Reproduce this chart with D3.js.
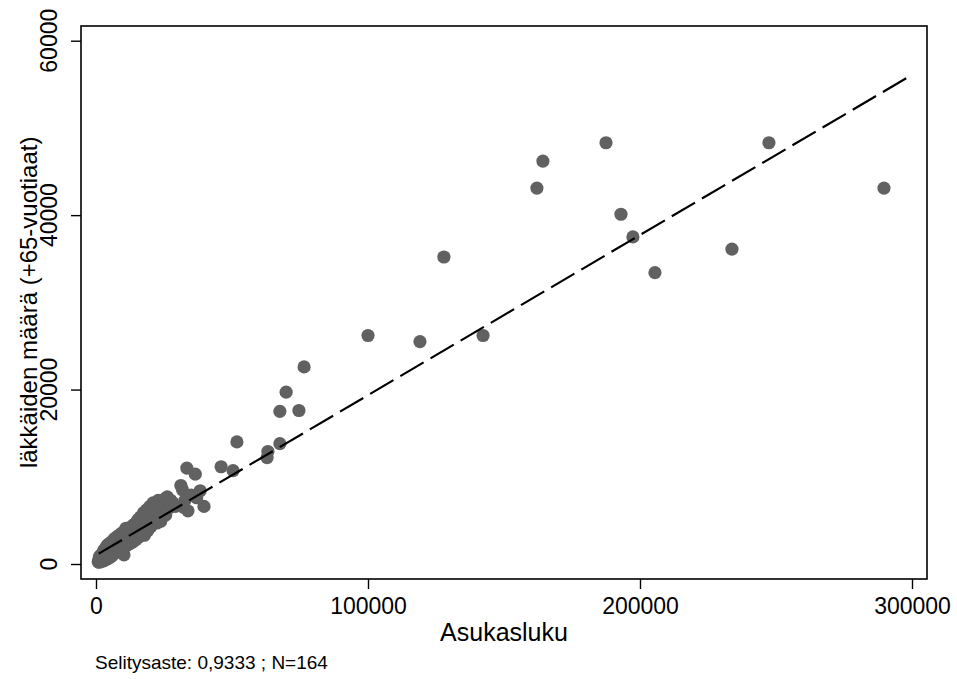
<!doctype html>
<html lang="fi">
<head>
  <meta charset="utf-8">
  <title>Asukasluku ja läkkäiden määrä</title>
  <script src="https://d3js.org/d3.v7.min.js"></script>
  <style>
  body { margin: 0; background: #fff; }
  svg text { font-family: "Liberation Sans", Arial, sans-serif; fill: #000; }
  </style>
</head>
<body>
<script>
  // municipalities: population (x) and number of elderly +65 (y)
  var asukasluku = [
    289700, 247400, 187500, 164300, 162100, 193000, 197400, 205500, 233800, 127900,
    100000, 119100, 142300, 76500, 69900, 67600, 74600, 67600, 63200, 62900,
    51800, 46000, 50400,
    800, 1000, 1100, 1200, 1300, 1400, 1500, 1600, 1700, 1800, 1900, 2000, 2100, 2200,
    2300, 2400, 2500, 2600, 2700, 2800, 2900, 3000, 1250, 1750, 2250, 2750, 2600, 3100,
    3200, 3400, 3500,
    3600, 3700, 3800, 3900, 4000, 4100, 4200, 4300, 4400, 4500, 4600, 4700, 4800, 4900,
    5000, 5100, 5200, 5300, 5400, 5500, 5600, 5700, 5800, 5900, 6000,
    6200, 6300, 6400, 6600, 6700, 6800, 7000, 7100, 7300, 7400, 7600, 7700, 7900, 8000,
    8200, 8400, 8500, 8700, 8900, 9000, 9300, 9500, 9700, 9900, 10300,
    10400, 10600, 10900, 11200, 11500, 11700, 12000, 12300, 12600, 12900, 13200, 13500,
    13800, 14100, 14400, 14700, 14900, 11000,
    15200, 15500, 15800, 16100, 16400, 16800, 17100, 17500, 17800, 18200, 18600, 19000,
    19400, 19800,
    20200, 20600, 21000, 21500, 22000, 22400, 22900, 23300, 23800, 24300,
    25000, 25600, 26200, 26800, 27500, 28300, 29200,
    31200, 31800, 32200, 32700, 33400, 33800, 35000, 36500, 37000, 38300, 39700
  ];
  var iakkaat = [
    43100, 48300, 48300, 46200, 43100, 40100, 37500, 33400, 36100, 35200,
    26200, 25500, 26200, 22600, 19700, 17500, 17600, 13800, 12900, 12200,
    14000, 11150, 10700,
    250, 300, 450, 200, 600, 350, 700, 300, 800, 400, 900, 300, 1000, 500,
    1100, 400, 1200, 600, 1200, 350, 1400, 550, 850, 1000, 900, 1500, 400, 1600,
    650, 1450, 1800,
    500, 1900, 750, 2000, 1000, 2100, 600, 1600, 2200, 850, 1900, 1300, 2300, 700,
    2100, 1100, 2400, 1600, 950, 2300, 1300, 2500, 900, 1900, 2600,
    1300, 2700, 1700, 2500, 1200, 2900, 1600, 2400, 1400, 3000, 2000, 2700, 1600, 3200,
    2200, 3000, 1700, 3300, 2000, 2600, 3500, 2300, 3200, 1800, 1050,
    3700, 2400, 3300, 2100, 3900, 2700, 3600, 2300, 4200, 2900, 4000, 2500,
    4500, 3200, 4200, 2800, 4800, 4100,
    3600, 5100, 3100, 4500, 5400, 3500, 4900, 5900, 3300, 4500, 6200, 3800,
    5300, 6600,
    4300, 6100, 7000, 4800, 6400, 4700, 7300, 5500, 4900, 6900,
    7400, 5600, 7700, 6400, 7300, 7000, 6600,
    9000, 8500, 6500, 7300, 11000, 6100, 7900, 10300, 7600, 8400, 6600
  ];

  var xTicks = [0, 100000, 200000, 300000];
  var yTicks = [0, 20000, 40000, 60000];

  // linear fit shown as dashed line
  var fitRange = [1000, 299500];
  var fitIntercept = 1000, fitSlope = 0.1836;

  var noteText = "Selitysaste: 0,9333 ; N=164";
  var xTitle = "Asukasluku";
  var yTitle = "läkkäiden määrä (+65-vuotiaat)";

  var W = 957, H = 679;
  var frame = {left: 81, right: 927, top: 26, bottom: 579};

  var svg = d3.select("body").append("svg")
      .attr("width", W)
      .attr("height", H);

  var x = d3.scaleLinear().domain([0, 300000]).range([96, 912]);
  var y = d3.scaleLinear().domain([0, 60000]).range([564, 40.7]);

  // points
  var pts = asukasluku.map(function(d, i) { return {x: d, y: iakkaat[i]}; });
  svg.append("g").selectAll("circle")
      .data(pts)
    .enter().append("circle")
      .attr("cx", function(d) { return x(d.x); })
      .attr("cy", function(d) { return y(d.y); })
      .attr("r", 6.6)
      .attr("fill", "#616161");

  // fitted line
  var fit = fitRange.map(function(v) { return [v, fitIntercept + fitSlope * v]; });
  svg.append("path")
      .datum(fit)
      .attr("d", d3.line().x(function(d) { return x(d[0]); }).y(function(d) { return y(d[1]); }))
      .attr("fill", "none")
      .attr("stroke", "#000")
      .attr("stroke-width", 2.2)
      .attr("stroke-dasharray", "27,8");

  // plot frame
  svg.append("rect")
      .attr("x", frame.left)
      .attr("y", frame.top)
      .attr("width", frame.right - frame.left)
      .attr("height", frame.bottom - frame.top)
      .attr("fill", "none")
      .attr("stroke", "#000")
      .attr("stroke-width", 1.6);

  // x axis
  var gx = svg.append("g")
      .attr("transform", "translate(0," + frame.bottom + ")")
      .call(d3.axisBottom(x).tickValues(xTicks).tickSize(10).tickFormat(d3.format("d")));
  gx.select(".domain").remove();
  gx.selectAll("line").attr("stroke", "#000").attr("stroke-width", 1.4);
  gx.selectAll("text")
      .attr("y", 35).attr("dy", null)
      .style("font-size", "23px")
      .style("font-family", "'Liberation Sans', Arial, sans-serif");

  // y axis: ticks from the axis, labels rotated by hand
  var gy = svg.append("g")
      .attr("transform", "translate(" + frame.left + ",0)")
      .call(d3.axisLeft(y).tickValues(yTicks).tickSize(10).tickFormat(""));
  gy.select(".domain").remove();
  gy.selectAll("line").attr("stroke", "#000").attr("stroke-width", 1.4);

  svg.append("g").selectAll("text")
      .data(yTicks)
    .enter().append("text")
      .attr("transform", function(d) { return "translate(57," + y(d) + ") rotate(-90)"; })
      .attr("text-anchor", "middle")
      .style("font-size", "23px")
      .text(d3.format("d"));

  // titles
  svg.append("text")
      .attr("x", (x(0) + x(300000)) / 2)
      .attr("y", 641)
      .attr("text-anchor", "middle")
      .style("font-size", "25px")
      .text(xTitle);

  svg.append("text")
      .attr("transform", "translate(37," + (y(0) + y(60000)) / 2 + ") rotate(-90)")
      .attr("text-anchor", "middle")
      .style("font-size", "24px")
      .text(yTitle);

  svg.append("text")
      .attr("x", 95)
      .attr("y", 669)
      .style("font-size", "19px")
      .text(noteText);
</script>
</body>
</html>
